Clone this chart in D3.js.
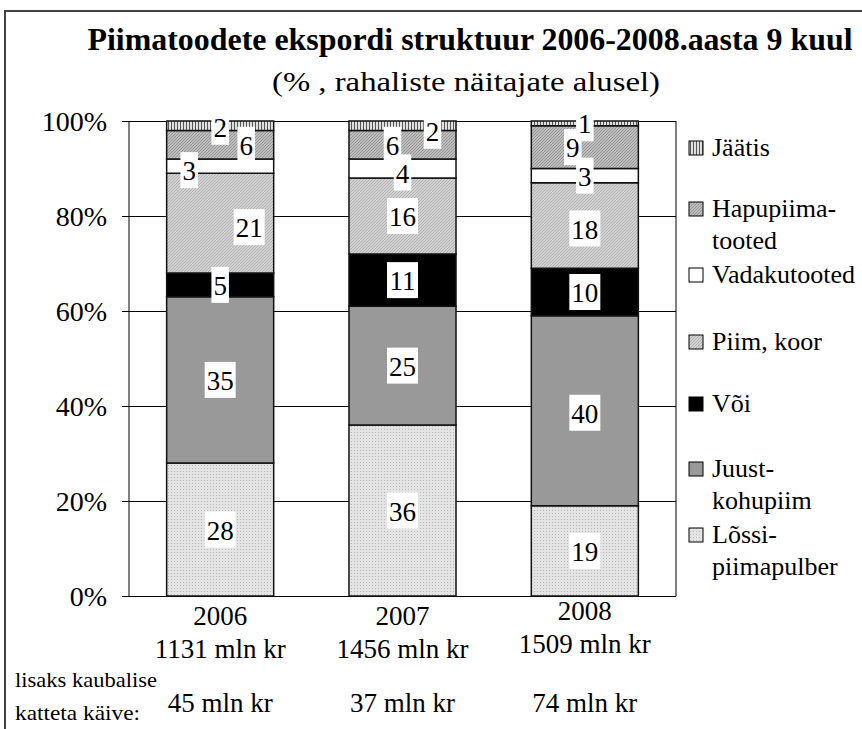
<!DOCTYPE html>
<html>
<head>
<meta charset="utf-8">
<script src="https://cdn.jsdelivr.net/npm/d3@7"></script>
<style>
  body { margin: 0; background: #fff; }
  text { font-family: "Liberation Serif", "Times New Roman", serif; fill: #000; }
</style>
</head>
<body>
<div id="chart"></div>
<script>
// data
var years = ["2006", "2007", "2008"];
var totals = ["1131 mln kr", "1456 mln kr", "1509 mln kr"];
var extras = ["45 mln kr", "37 mln kr", "74 mln kr"];
// stack order bottom -> top
var products = ["Lõssipiimapulber", "Juust-kohupiim", "Või", "Piim, koor", "Vadakutooted", "Hapupiimatooted", "Jäätis"];
var lossi   = [28, 36, 19];
var juust   = [35, 25, 40];
var voi     = [5, 11, 10];
var piim    = [21, 16, 18];
var vadak   = [3, 4, 3];
var hapu    = [6, 6, 9];
var jaatis  = [2, 2, 1];
var yTicks = [0, 20, 40, 60, 80, 100];

var series = [lossi, juust, voi, piim, vadak, hapu, jaatis];

var W = 862, H = 729;
var margin = {left: 129, right: 186, top: 121, bottom: 133};

var svg = d3.select("#chart").append("svg")
    .attr("width", W)
    .attr("height", H);

// fill patterns
var defs = svg.append("defs");
var pj = defs.append("pattern").attr("id", "pJaatis").attr("patternUnits", "userSpaceOnUse")
    .attr("width", 3).attr("height", 3);
pj.append("rect").attr("width", 3).attr("height", 3).attr("fill", "#e0e0e0");
pj.append("rect").attr("width", 1).attr("height", 3).attr("fill", "#555");

var ph = defs.append("pattern").attr("id", "pHapu").attr("patternUnits", "userSpaceOnUse")
    .attr("width", 3).attr("height", 3);
ph.append("rect").attr("width", 3).attr("height", 3).attr("fill", "#bdbdbd");
ph.append("path").attr("d", "M0,3L3,0").attr("stroke", "#8c8c8c").attr("stroke-width", 0.8);

var pp = defs.append("pattern").attr("id", "pPiim").attr("patternUnits", "userSpaceOnUse")
    .attr("width", 3).attr("height", 3);
pp.append("rect").attr("width", 3).attr("height", 3).attr("fill", "#d2d2d2");
pp.append("path").attr("d", "M0,3L3,0").attr("stroke", "#a8a8a8").attr("stroke-width", 0.8);

var pl = defs.append("pattern").attr("id", "pLossi").attr("patternUnits", "userSpaceOnUse")
    .attr("width", 3).attr("height", 3);
pl.append("rect").attr("width", 3).attr("height", 3).attr("fill", "#e4e4e4");
pl.append("rect").attr("width", 1).attr("height", 1).attr("fill", "#b8b8b8");

var fills = ["url(#pLossi)", "#999999", "#000000", "url(#pPiim)", "#ffffff", "url(#pHapu)", "url(#pJaatis)"];

// outer frame
svg.append("path")
    .attr("d", "M5," + H + "L5,11L" + W + ",11")
    .attr("fill", "none").attr("stroke", "#444").attr("stroke-width", 2);

// titles
svg.append("text")
    .attr("x", 470).attr("y", 50)
    .attr("text-anchor", "middle")
    .attr("font-size", 32).attr("font-weight", "bold")
    .attr("textLength", 765).attr("lengthAdjust", "spacingAndGlyphs")
    .text("Piimatoodete ekspordi struktuur 2006-2008.aasta 9 kuul");
svg.append("text")
    .attr("x", 466).attr("y", 91)
    .attr("text-anchor", "middle")
    .attr("font-size", 27)
    .attr("textLength", 388).attr("lengthAdjust", "spacingAndGlyphs")
    .text("(% , rahaliste näitajate alusel)");

var x = d3.scaleBand().domain(years).range([margin.left, W - margin.right]);
var y = d3.scaleLinear().domain([0, 100]).range([H - margin.bottom, margin.top]);
var barW = x.bandwidth() * 0.587;

// gridlines + axis
var yAxis = d3.axisLeft(y)
    .tickValues(yTicks)
    .tickSize(-(W - margin.right - margin.left))
    .tickSizeOuter(0)
    .tickPadding(22)
    .tickFormat(function(d) { return d + "%"; });

var yg = svg.append("g")
    .attr("transform", "translate(" + margin.left + ",0)")
    .call(yAxis);
yg.select(".domain").remove();
yg.selectAll(".tick line")
    .attr("x1", -7)
    .attr("stroke", "#000").attr("stroke-width", 1);
yg.selectAll(".tick text")
    .attr("font-size", 28)
    .attr("font-family", "Liberation Serif, serif")
    .attr("dy", "0.35em");

// plot frame sides
svg.append("line")
    .attr("x1", margin.left).attr("x2", margin.left)
    .attr("y1", y(100)).attr("y2", y(0))
    .attr("stroke", "#000");
svg.append("line")
    .attr("x1", W - margin.right).attr("x2", W - margin.right)
    .attr("y1", y(100)).attr("y2", y(0))
    .attr("stroke", "#000");

// stacked bars
var rows = years.map(function(yr, i) {
    var r = {year: yr};
    products.forEach(function(p, k) { r[p] = series[k][i]; });
    return r;
});
var stack = d3.stack().keys(products)(rows);

var layers = svg.selectAll("g.layer").data(stack).enter()
    .append("g").attr("class", "layer")
    .attr("fill", function(d, k) { return fills[k]; });

layers.selectAll("rect").data(function(d) { return d; }).enter()
    .append("rect")
    .attr("x", function(d) { return x(d.data.year) + (x.bandwidth() - barW) / 2; })
    .attr("width", barW)
    .attr("y", function(d) { return y(d[1]); })
    .attr("height", function(d) { return y(d[0]) - y(d[1]); })
    .attr("stroke", "#111")
    .attr("stroke-width", 1.5);

// value labels (manual shifts like the original)
var shiftX = [
    [0, 0, 0], [0, 0, 0], [0, 0, 0], [29, 0, 0], [-31, 0, 0], [26, -10, -12], [0, 30, 0]
];
var shiftY = [
    [0, 0, 0], [0, 0, 2], [0, 0, 0], [4, 0, 3], [4, 4, 0], [0, 0, 0], [1, 5, 0]
];
stack.forEach(function(layer, k) {
    layer.forEach(function(d, i) {
        var cx = x(d.data.year) + x.bandwidth() / 2 + shiftX[k][i];
        var cy = y((d[0] + d[1]) / 2) + shiftY[k][i];
        var txt = String(series[k][i]);
        var bw = txt.length * 13.5 + 4;
        svg.append("rect")
            .attr("x", cx - bw / 2).attr("y", cy - 18)
            .attr("width", bw).attr("height", 36)
            .attr("fill", "#fff");
        svg.append("text")
            .attr("x", cx).attr("y", cy + 10)
            .attr("text-anchor", "middle")
            .attr("font-size", 27)
            .text(txt);
    });
});

// category labels
var labY = [625, 625, 620];
years.forEach(function(yr, i) {
    var cx = x(yr) + x.bandwidth() / 2;
    svg.append("text").attr("x", cx).attr("y", labY[i])
        .attr("text-anchor", "middle").attr("font-size", 27).text(yr);
    svg.append("text").attr("x", cx).attr("y", labY[i] + 33)
        .attr("text-anchor", "middle").attr("font-size", 27).text(totals[i]);
    svg.append("text").attr("x", cx).attr("y", 712)
        .attr("text-anchor", "middle").attr("font-size", 27).text(extras[i]);
});
svg.append("text").attr("x", 15).attr("y", 687).attr("font-size", 22)
    .attr("textLength", 142).attr("lengthAdjust", "spacingAndGlyphs").text("lisaks kaubalise");
svg.append("text").attr("x", 15).attr("y", 720).attr("font-size", 22)
    .attr("textLength", 125).attr("lengthAdjust", "spacingAndGlyphs").text("katteta käive:");

// legend
var legend = [
    {k: 6, lines: ["Jäätis"], y: 156},
    {k: 5, lines: ["Hapupiima-", "tooted"], y: 217},
    {k: 4, lines: ["Vadakutooted"], y: 283},
    {k: 3, lines: ["Piim, koor"], y: 350},
    {k: 2, lines: ["Või"], y: 412},
    {k: 1, lines: ["Juust-", "kohupiim"], y: 477},
    {k: 0, lines: ["Lõssi-", "piimapulber"], y: 543}
];
var lg = svg.append("g");
legend.forEach(function(it) {
    lg.append("rect")
        .attr("x", 689).attr("y", it.y - 15)
        .attr("width", 14).attr("height", 14)
        .attr("fill", fills[it.k])
        .attr("stroke", "#000").attr("stroke-width", 1);
    it.lines.forEach(function(t, j) {
        lg.append("text")
            .attr("x", 712).attr("y", it.y + j * 32)
            .attr("font-size", 26)
            .text(t);
    });
});
</script>
</body>
</html>
